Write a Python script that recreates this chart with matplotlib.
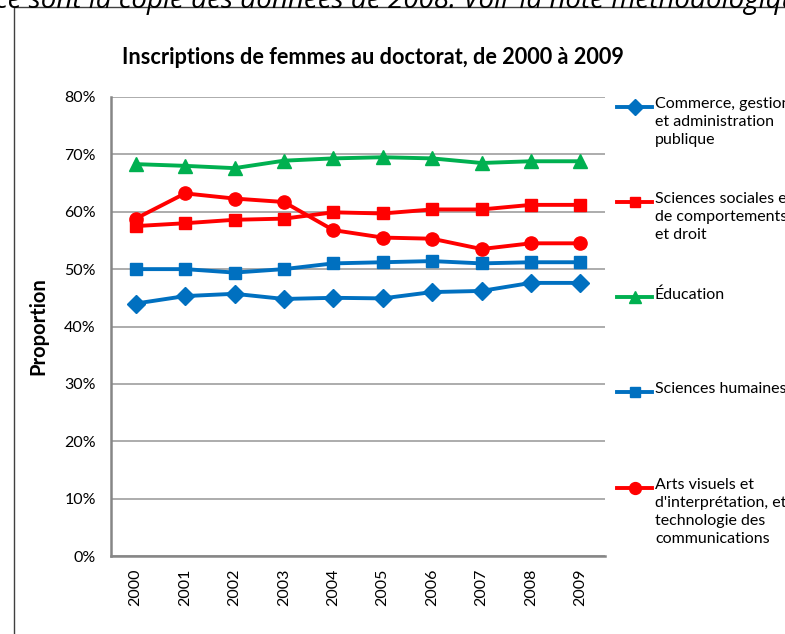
from matplotlib import pyplot as plt
from matplotlib.lines import Line2D
from matplotlib.patches import Rectangle
from matplotlib.ticker import PercentFormatter

# Data #########################################################################

YEARS = ["2000", "2001", "2002", "2003", "2004", "2005", "2006", "2007", "2008", "2009"]

COMMERCE = [44.0, 45.3, 45.7, 44.8, 45.0, 44.9, 46.0, 46.2, 47.6, 47.6]
SCIENCES_SOCIALES = [57.5, 58.0, 58.6, 58.8, 59.9, 59.7, 60.4, 60.4, 61.2, 61.2]
EDUCATION = [68.3, 68.0, 67.6, 68.9, 69.3, 69.5, 69.3, 68.5, 68.8, 68.8]
SCIENCES_HUMAINES = [50.0, 50.0, 49.4, 50.0, 51.0, 51.2, 51.4, 51.0, 51.2, 51.2]
ARTS = [58.8, 63.2, 62.3, 61.7, 56.8, 55.5, 55.3, 53.5, 54.5, 54.5]

LABELS = ["Commerce, gestion\net administration\npublique",
          "Sciences sociales et\nde comportements\net droit",
          "Éducation",
          "Sciences humaines",
          "Arts visuels et\nd'interprétation, et\ntechnologie des\ncommunications"]

TITLE = "Inscriptions de femmes au doctorat, de 2000 à 2009"
NOTE = "ce sont la copie des données de 2008. Voir la note méthodologique."

# Style ########################################################################

W, H = 785, 634
FONT = ["Lato", "DejaVu Sans"]
FS = 11.5
BLUE, RED, GREEN = "#0070C0", "#FF0000", "#00B050"
GRID_C = "#A6A6A6"
AXIS_C = "#868686"
LW = 2.8

SERIES = [
    (COMMERCE, BLUE, "D", 9),
    (SCIENCES_SOCIALES, RED, "s", 8.5),
    (EDUCATION, GREEN, "^", 10),
    (SCIENCES_HUMAINES, BLUE, "s", 8.5),
    (ARTS, RED, "o", 9.5),
]
LEGEND_Y = [107, 202, 297, 392, 488]  # pixel rows of first legend line

plt.rcParams["font.family"] = FONT


def fx(px):
    return px / W


def fy(py):
    return 1 - py / H


fig = plt.figure(figsize=(W / 100, H / 100), dpi=100)
ax = fig.add_axes([fx(111), fy(556), fx(605) - fx(111), fy(97) - fy(556)])

x = list(range(len(YEARS)))
for vals, c, m, ms in SERIES:
    ax.plot(x, vals, color=c, lw=LW, marker=m, ms=ms, mec=c, mfc=c, zorder=3)

ax.set_xlim(-0.5, len(YEARS) - 0.5)
ax.set_ylim(0, 80)
ax.set_yticks(range(0, 81, 10))
ax.yaxis.set_major_formatter(PercentFormatter(decimals=0))
ax.set_xticks(x)
ax.set_xticklabels(YEARS, rotation=90, fontsize=FS)
ax.tick_params(axis="y", labelsize=FS, length=0, pad=11)
ax.tick_params(axis="x", length=0, pad=9)
ax.grid(axis="y", color=GRID_C, lw=1.3)
ax.set_axisbelow(True)
for s in ["top", "right"]:
    ax.spines[s].set_visible(False)
for s in ["left", "bottom"]:
    ax.spines[s].set_color(AXIS_C)
    ax.spines[s].set_linewidth(1.8)

fig.text(fx(38), fy(326), "Proportion", rotation=90, ha="center", va="center",
         fontsize=14.5, fontweight="bold")
fig.text(fx(373), fy(57), TITLE, ha="center", va="center", fontsize=15.6, fontweight="bold")

# manual legend with marker aligned to first text line
for (vals, c, m, ms), lab, py in zip(SERIES, LABELS, LEGEND_Y):
    fig.add_artist(Line2D([fx(617), fx(652)], [fy(py), fy(py)], color=c, lw=LW))
    fig.add_artist(Line2D([fx(634.5)], [fy(py)], marker=m, ms=ms * 0.9, color=c))
    fig.text(fx(655), fy(py - 10), lab, ha="left", va="top", fontsize=FS, linespacing=1.35)

# outer chart frame and cut-off note above it
fig.add_artist(Rectangle((fx(14), -0.1), 1.2, fy(7) + 0.1, fill=False,
                         ec="#404040", lw=1.0, transform=fig.transFigure))
fig.text(fx(-5), fy(8), NOTE, ha="left", va="baseline", fontsize=20, style="italic",
         family=["Open Sans", "DejaVu Sans"])

fig.savefig("out.png", dpi=100)
